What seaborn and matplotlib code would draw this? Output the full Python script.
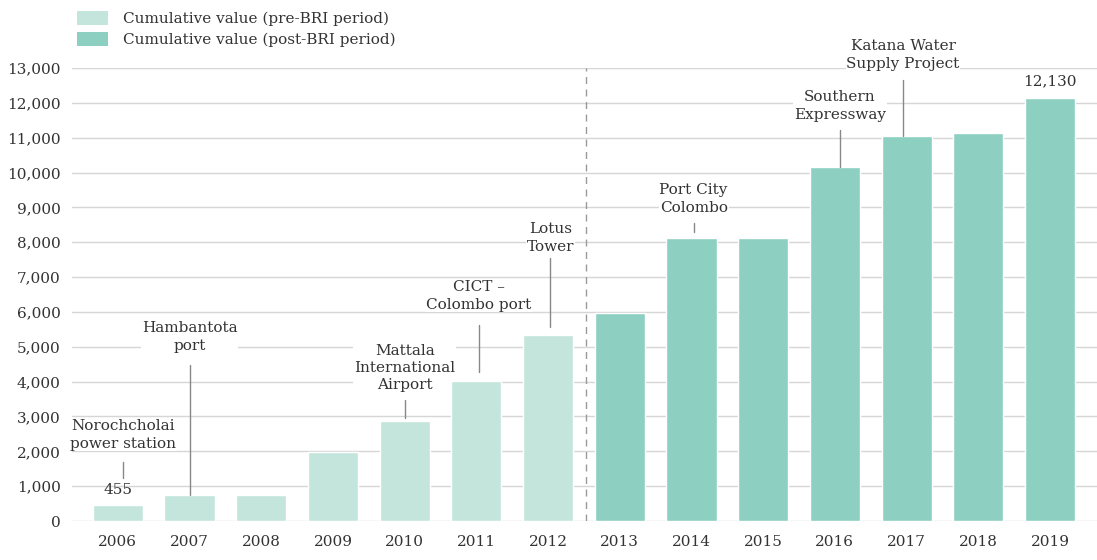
import matplotlib
matplotlib.use("Agg")
import matplotlib.pyplot as plt
import seaborn as sns
import pandas as pd
from matplotlib.patches import Patch

# ---------------- data ----------------
years = ["2006", "2007", "2008", "2009", "2010", "2011", "2012",
         "2013", "2014", "2015", "2016", "2017", "2018", "2019"]
values = [455, 740, 750, 1990, 2870, 4010, 5330,
          5980, 8130, 8120, 10160, 11060, 11130, 12130]
periods = ["Cumulative value (pre-BRI period)"] * 7 + ["Cumulative value (post-BRI period)"] * 7
y_ticks = [0, 1000, 2000, 3000, 4000, 5000, 6000, 7000, 8000, 9000, 10000, 11000, 12000, 13000]

project_labels = ["Norochcholai\npower station", "Hambantota\nport",
                  "Mattala\nInternational\nAirport", "CICT \u2013\nColombo port",
                  "Lotus\nTower", "Port City\nColombo", "Southern\nExpressway",
                  "Katana Water\nSupply Project"]
project_years = ["2006", "2007", "2010", "2011", "2012", "2014", "2016", "2017"]

# ---------------- layout (positions of annotations) ----------------
# (text x offset, text y, leader top, leader bottom) in data units
ann_layout = [
    (0.07, 2470, 1690, 1230),
    (0.0, 5280, 4480, None),
    (0.0, 4390, 3470, 2960),
    (0.03, 6460, 5620, 4280),
    (0.03, 8120, 7550, 5570),
    (0.03, 9240, 8550, 8290),
    (0.07, 11910, 11220, None),
    (-0.05, 13370, 12650, None),
]

df = pd.DataFrame({"year": years, "value": values, "period": periods})

sns.set_theme(style="white")
plt.rcParams["font.family"] = ["DejaVu Serif"]

pre_c = "#c3e5dc"
post_c = "#8dcfc1"
palette = {periods[0]: pre_c, periods[-1]: post_c}

fig = plt.figure(figsize=(10.97, 5.6), dpi=100)
ax = fig.add_axes([0.0656, 0.0696, 0.9344, 0.809])

sns.barplot(data=df, x="year", y="value", hue="period", dodge=False,
            palette=palette, width=0.7, ax=ax, legend=False, saturation=1, zorder=3)

ax.set_ylim(0, 13000)
ax.set_xlim(-0.64, 13.655)
ax.set_yticks(y_ticks)
ax.set_yticklabels([f"{v:,}" for v in y_ticks])
ax.yaxis.grid(True, color="#d6d6d6", lw=1, zorder=0)
ax.set_axisbelow(True)
for s in ax.spines.values():
    s.set_visible(False)
ax.tick_params(axis="both", length=0, labelsize=11, colors="#333333")
ax.tick_params(axis="y", pad=8)
ax.tick_params(axis="x", pad=10)
ax.set_xlabel("")
ax.set_ylabel("")

# dashed separator between periods
ax.axvline(6.53, color="#999999", lw=1, ls=(0, (5, 4)), zorder=4, ymin=0, ymax=1)

# annotations
txt_kw = dict(ha="center", va="center", fontsize=11, color="#333333",
              linespacing=1.3, zorder=2, clip_on=False,
              bbox=dict(facecolor="white", edgecolor="none", pad=0.5))
for lab, yr, (dx, ty, l_top, l_bot) in zip(project_labels, project_years, ann_layout):
    i = years.index(yr)
    ax.text(i + dx, ty, lab, **txt_kw)
    bot = values[i] if l_bot is None else l_bot
    ax.plot([i + dx, i + dx], [l_top, bot], color="#888888", lw=1, zorder=5,
            clip_on=False)

ax.text(0, values[0] + 430, f"{values[0]:,}", ha="center", va="center",
        fontsize=11, color="#333333", zorder=6)
ax.text(13, values[-1] + 500, f"{values[-1]:,}", ha="center", va="center",
        fontsize=11, color="#333333", zorder=6)

handles = [Patch(facecolor=pre_c, edgecolor="none"),
           Patch(facecolor=post_c, edgecolor="none")]
fig.legend(handles, [periods[0], periods[-1]], loc="upper left",
           bbox_to_anchor=(0.058, 1.005), frameon=False, fontsize=11,
           handlelength=2.0, handleheight=1.0, handletextpad=1.0,
           labelspacing=0.4, labelcolor="#333333")

fig.savefig("out.png", dpi=100)
